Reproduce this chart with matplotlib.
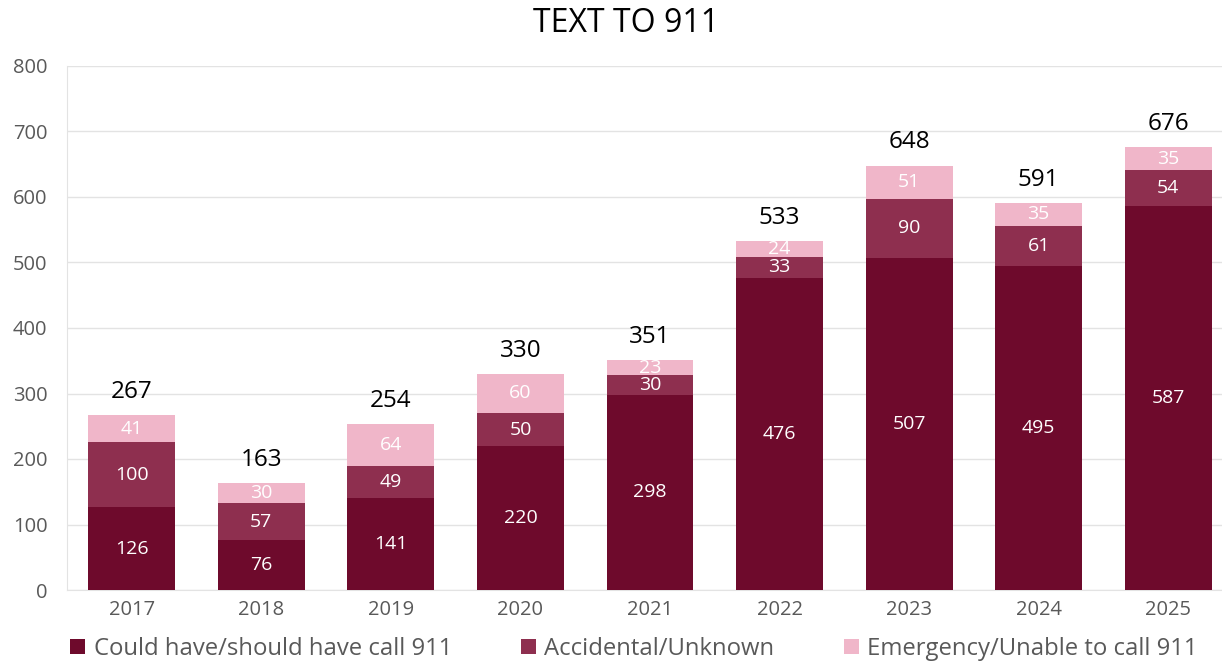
import matplotlib
matplotlib.use("Agg")
import matplotlib.pyplot as plt
import numpy as np

years = ["2017", "2018", "2019", "2020", "2021", "2022", "2023", "2024", "2025"]
could_have = [126, 76, 141, 220, 298, 476, 507, 495, 587]
accidental = [100, 57, 49, 50, 30, 33, 90, 61, 54]
emergency = [41, 30, 64, 60, 23, 24, 51, 35, 35]
totals = [267, 163, 254, 330, 351, 533, 648, 591, 676]
series_names = ["Could have/should have call 911", "Accidental/Unknown", "Emergency/Unable to call 911"]
colors = ["#6E0A2C", "#8E2F4F", "#F0B6C9"]

plt.rcParams['font.family'] = ['Open Sans', 'DejaVu Sans']

fig = plt.figure(figsize=(12.22, 6.64), dpi=100)
ax = fig.add_axes([67/1222, 74/664, (1233-67)/1222, 524/664])

x = np.arange(len(years))
w = 0.67
bottom = np.zeros(len(years))
for vals, col, name in zip([could_have, accidental, emergency], colors, series_names):
    ax.bar(x, vals, w, bottom=bottom, color=col, label=name, zorder=3)
    for xi, b, v in zip(x, bottom, vals):
        ax.text(xi, b + v / 2, str(v), ha='center', va='center', color='white', fontsize=14, zorder=4)
    bottom += np.array(vals)

for xi, t in zip(x, totals):
    ax.annotate(str(t), (xi, t), xytext=(0, 8), textcoords='offset points',
                ha='center', va='bottom', fontsize=17.5, color='black')

ax.set_xlim(-0.5, 8.5)
ax.set_ylim(0, 800)
ax.set_yticks(range(0, 801, 100))
ax.set_xticks(x)
ax.set_xticklabels(years)
ax.tick_params(axis='both', length=0, labelsize=14.5, labelcolor='#595959')
ax.tick_params(axis='y', pad=14)
ax.tick_params(axis='x', pad=7)
ax.grid(axis='y', color='#E3E3E3', linewidth=1, zorder=0)
for s in ['top', 'right']:
    ax.spines[s].set_visible(False)
for s in ['left', 'bottom']:
    ax.spines[s].set_color('#E3E3E3')

fig.text(626/1222, 1 - 24/664, "TEXT TO 911", ha='center', va='center', fontsize=23, color='black')

handles, labels = ax.get_legend_handles_labels()
fig.legend(handles, labels, loc='center', bbox_to_anchor=(634/1222, 15/664), ncol=3,
           frameon=False, fontsize=17.2, handlelength=0.62, handleheight=0.62,
           handletextpad=0.35, columnspacing=2.9, labelcolor='#595959')

fig.savefig("out.png", dpi=100)
